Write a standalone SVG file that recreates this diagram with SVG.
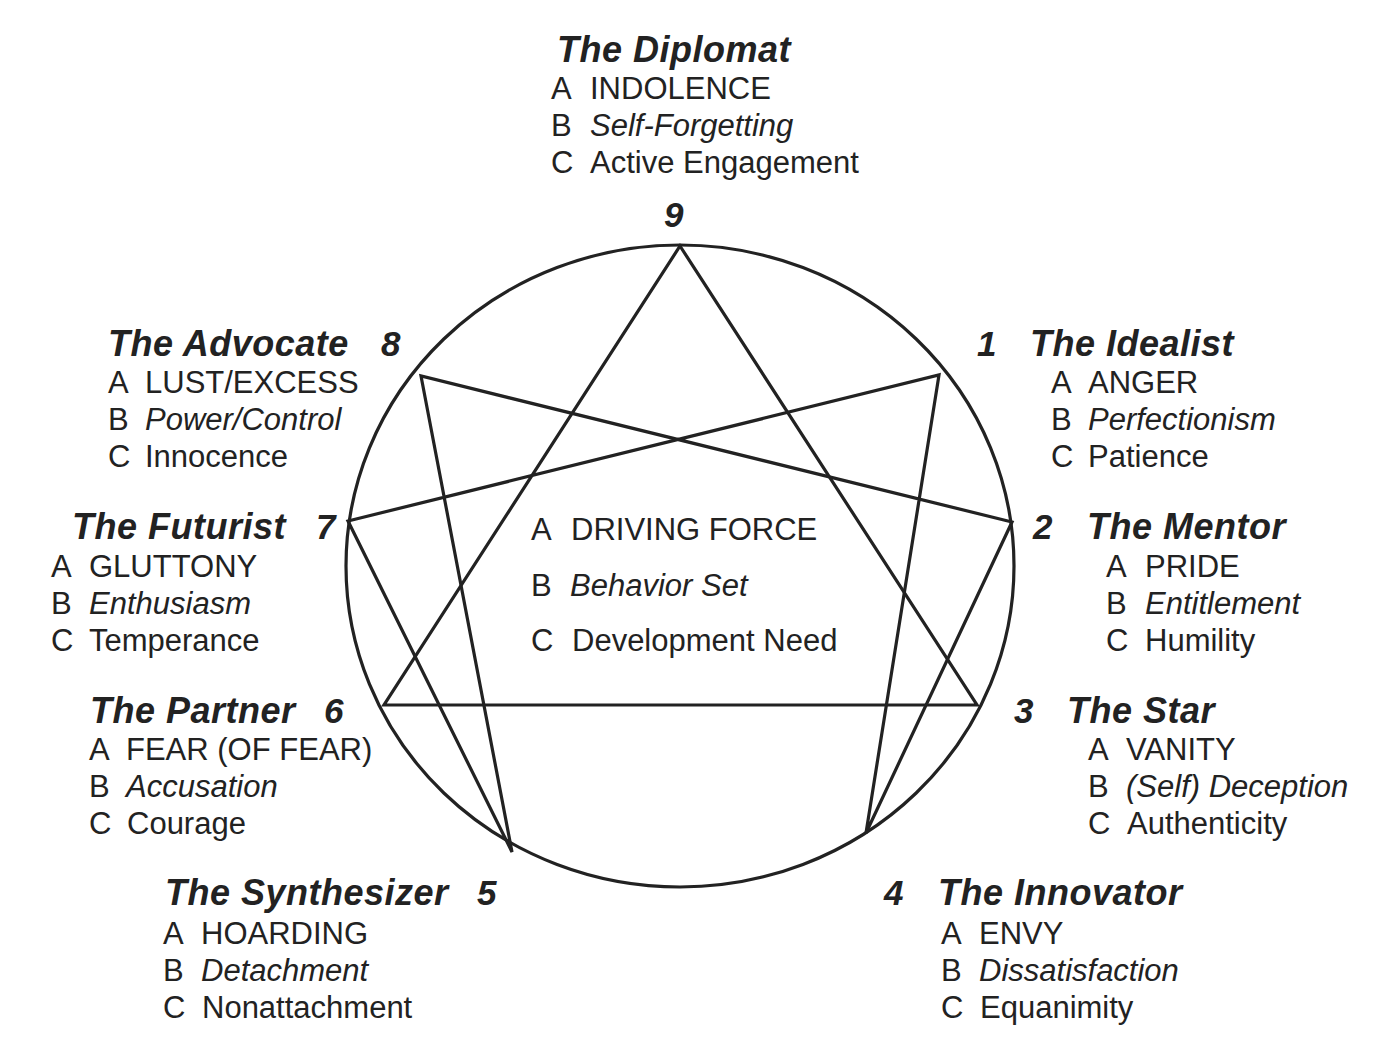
<svg xmlns="http://www.w3.org/2000/svg" width="1395" height="1052" viewBox="0 0 1395 1052">
<style>
text{font-family:"Liberation Sans",Arial,sans-serif;fill:#222;font-size:31px}
.t{font-weight:bold;font-style:italic;font-size:36px;letter-spacing:0.5px}
.n{font-weight:bold;font-style:italic;font-size:35px}
.i{font-style:italic}
.ln{fill:none;stroke:#222;stroke-width:3.2;stroke-linejoin:miter}
</style>
<rect width="1395" height="1052" fill="#fff"/>
<g id="connectors">
<ellipse class="ln" cx="680" cy="566" rx="334" ry="321"/>
<polygon class="ln" points="680,246 977,705 384,705"/>
<polygon class="ln" points="939,375 866,833 1012,522 421,376 512,852 348,521"/>
</g>
<g id="node-9">
<text class="t" x="557" y="62">The Diplomat</text>
<text x="551" y="99">A</text><text x="590" y="99">INDOLENCE</text>
<text x="551" y="136">B</text><text class="i" x="590" y="136">Self-Forgetting</text>
<text x="551" y="173">C</text><text x="590" y="173">Active Engagement</text>
<text class="n" x="664" y="227">9</text>
</g>
<g id="node-8">
<text class="t" x="108" y="356">The Advocate</text><text class="n" x="381" y="356">8</text>
<text x="108" y="393">A</text><text x="145" y="393">LUST/EXCESS</text>
<text x="108" y="430">B</text><text class="i" x="145" y="430">Power/Control</text>
<text x="108" y="467">C</text><text x="145" y="467">Innocence</text>
</g>
<g id="node-1">
<text class="n" x="977" y="356">1</text><text class="t" x="1030" y="356">The Idealist</text>
<text x="1051" y="393">A</text><text x="1088" y="393">ANGER</text>
<text x="1051" y="430">B</text><text class="i" x="1088" y="430">Perfectionism</text>
<text x="1051" y="467">C</text><text x="1088" y="467">Patience</text>
</g>
<g id="node-7">
<text class="t" x="72" y="539">The Futurist</text><text class="n" x="316" y="539">7</text>
<text x="51" y="577">A</text><text x="89" y="577">GLUTTONY</text>
<text x="51" y="614">B</text><text class="i" x="89" y="614">Enthusiasm</text>
<text x="51" y="651">C</text><text x="89" y="651">Temperance</text>
</g>
<g id="node-2">
<text class="n" x="1033" y="539">2</text><text class="t" x="1087" y="539">The Mentor</text>
<text x="1106" y="577">A</text><text x="1145" y="577">PRIDE</text>
<text x="1106" y="614">B</text><text class="i" x="1145" y="614">Entitlement</text>
<text x="1106" y="651">C</text><text x="1145" y="651">Humility</text>
</g>
<g id="node-6">
<text class="t" x="90" y="723">The Partner</text><text class="n" x="324" y="723">6</text>
<text x="89" y="760">A</text><text x="126" y="760">FEAR (OF FEAR)</text>
<text x="89" y="797">B</text><text class="i" x="126" y="797">Accusation</text>
<text x="89" y="834">C</text><text x="127" y="834">Courage</text>
</g>
<g id="node-3">
<text class="n" x="1014" y="723">3</text><text class="t" x="1067" y="723">The Star</text>
<text x="1088" y="760">A</text><text x="1126" y="760">VANITY</text>
<text x="1088" y="797">B</text><text class="i" x="1126" y="797">(Self) Deception</text>
<text x="1088" y="834">C</text><text x="1127" y="834">Authenticity</text>
</g>
<g id="node-5">
<text class="t" x="165" y="905">The Synthesizer</text><text class="n" x="477" y="905">5</text>
<text x="163" y="944">A</text><text x="201" y="944">HOARDING</text>
<text x="163" y="981">B</text><text class="i" x="201" y="981">Detachment</text>
<text x="163" y="1018">C</text><text x="202" y="1018">Nonattachment</text>
</g>
<g id="node-4">
<text class="n" x="884" y="905">4</text><text class="t" x="938" y="905">The Innovator</text>
<text x="941" y="944">A</text><text x="979" y="944">ENVY</text>
<text x="941" y="981">B</text><text class="i" x="979" y="981">Dissatisfaction</text>
<text x="941" y="1018">C</text><text x="980" y="1018">Equanimity</text>
</g>
<g id="legend">
<text x="531" y="540">A</text><text x="571" y="540">DRIVING FORCE</text>
<text x="531" y="596">B</text><text class="i" x="570" y="596">Behavior Set</text>
<text x="531" y="651">C</text><text x="572" y="651">Development Need</text>
</g>
</svg>
